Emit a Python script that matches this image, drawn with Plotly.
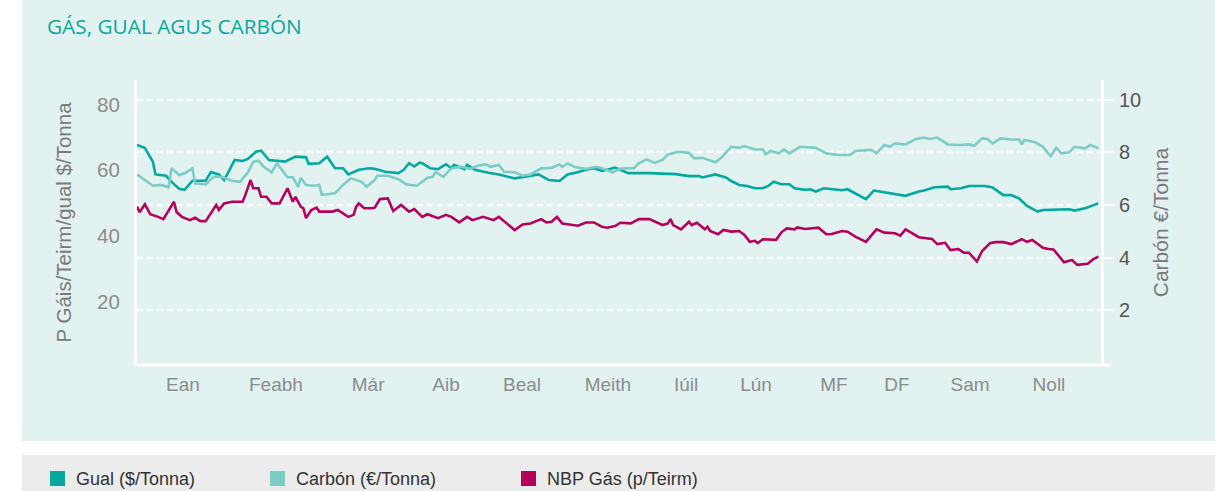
import plotly.graph_objects as go

# ---------------- data ----------------
months = ["Ean", "Feabh", "Már", "Aib", "Beal", "Meith", "Iúil", "Lún", "MF", "DF", "Sam", "Noll"]

# Gual ($/Tonna) - day of year, value (left axis)
gual_day = [0, 3, 6, 7, 11, 13, 16, 18, 21, 26, 28, 31, 33, 37, 40, 42, 45, 47, 50, 53, 56, 60, 64, 65, 69, 72, 75, 78, 80, 84, 88,
            90, 94, 99, 101, 103, 105, 107, 108, 111, 114, 117, 119, 120, 124, 125, 128, 133, 137, 142, 143, 147, 152, 156, 160, 163,
            166, 170, 173, 176, 178, 181, 186, 194, 204, 209, 213, 214, 219, 223, 225, 228, 231, 234, 237, 239, 241, 244, 247, 249,
            253, 255, 257, 260, 263, 267, 269, 272, 276, 279, 283, 286, 291, 296, 298, 302, 307, 308, 312, 315, 321, 324, 328, 331,
            334, 337, 341, 343, 348, 353, 355, 359, 364]
gual_val = [67.7, 66.7, 62.6, 58.7, 58.3, 56.5, 54.3, 54.0, 56.8, 56.8, 59.4, 58.7, 57.0, 63.1, 62.8, 63.4, 65.6, 65.9, 63.1, 62.8,
            62.6, 64.1, 63.9, 61.9, 62.1, 64.1, 60.6, 60.6, 58.7, 60.1, 60.6,
            60.4, 59.5, 59.1, 60.1, 62.1, 61.1, 62.3, 62.1, 60.6, 60.3, 61.8, 60.6, 61.6, 60.3, 61.6, 60.1, 59.2, 58.7, 57.7, 57.5,
            58.0, 58.7, 57.0, 56.7, 58.7,
            59.2, 60.1, 60.6, 59.8, 60.1, 60.8, 59.1, 59.1, 58.8, 58.2, 58.2, 57.8, 58.7, 57.8, 56.7, 55.5, 55.2, 54.5, 54.5, 55.2,
            56.5, 55.7, 55.7, 54.5,
            54.0, 54.2, 53.5, 54.5, 54.2, 53.9, 54.2, 53.0, 51.2, 53.8, 53.3, 52.7, 52.2, 53.5, 53.8, 54.8, 55.0, 54.2, 54.5, 55.2,
            55.2, 54.7, 52.4, 52.4,
            51.4, 49.1, 47.4, 47.9, 48.1, 48.1, 47.7, 48.4, 49.9]

# Carbón (€/Tonna) - day of year, value (right axis)
carbon_day = [0, 3, 6, 9, 12, 13, 16, 18, 21, 22, 26, 29, 32, 36, 39, 42, 44, 46, 48, 51, 53, 57, 59, 61, 62, 64, 67, 69, 70, 75,
              78, 81, 85, 87, 90, 91, 95, 99, 102, 106, 108, 110, 112, 113, 116, 119, 123, 126, 129, 132, 134, 137, 139, 143, 146,
              149, 153, 157, 160, 161, 163, 166, 170, 174, 177, 180, 183, 185, 188, 190, 193, 196, 199, 201, 205, 209, 211, 214, 219,
              221, 225, 228, 230, 234, 237, 238, 240, 243, 245, 247, 251, 257, 261, 266, 270, 272, 278, 280, 283, 285, 287, 291, 295,
              298, 300, 303, 307, 312, 315, 317, 320, 322, 324, 327, 331, 334, 335, 336, 340, 343, 345, 346, 348, 350, 353, 355, 359,
              361, 364]
carbon_val = [7.16, 6.95, 6.73, 6.76, 6.67, 7.39, 7.14, 7.20, 7.39, 6.82, 6.78, 7.07, 7.07, 6.92, 6.88, 7.24, 7.64, 7.68, 7.45,
              7.24, 7.58, 7.05, 7.05, 6.69, 7.03, 6.76, 6.73, 6.76, 6.38, 6.44,
              6.76, 7.01, 6.88, 6.69, 6.95, 7.11, 7.11, 6.98, 6.78, 6.73, 6.88, 7.03, 7.07, 7.26, 7.07, 7.39, 7.45, 7.37, 7.49, 7.54,
              7.45, 7.52, 7.26, 7.24, 7.11,
              7.16, 7.39, 7.41, 7.54, 7.45, 7.58, 7.43, 7.37, 7.45, 7.37, 7.24, 7.37, 7.39, 7.39, 7.58, 7.73, 7.60, 7.71, 7.92, 8.02,
              7.98, 7.77, 7.79, 7.62,
              7.77, 8.21, 8.17, 8.24, 8.11, 8.11, 7.92, 8.05, 7.96, 8.11, 7.96, 8.21, 8.17, 7.96, 7.90, 7.90, 8.05, 8.09, 7.96, 8.28,
              8.21, 8.34, 8.30, 8.51,
              8.56, 8.51, 8.56, 8.30, 8.28, 8.30, 8.25, 8.53, 8.51, 8.34, 8.53, 8.49, 8.49, 8.30, 8.47, 8.38, 8.21, 7.96, 7.86, 8.17,
              7.96, 8.00, 8.21, 8.15,
              8.28, 8.15]

# NBP Gás (p/Teirm) - day of year, value (left axis)
nbp_day = [0, 1, 3, 5, 8, 10, 14, 15, 17, 20, 22, 24, 26, 30, 31, 33, 36, 40, 41, 43, 44, 46, 47, 49, 51, 54, 57, 59, 60, 62, 63,
           64, 66, 68, 69, 74, 76, 80, 82, 83, 84, 86, 89, 90, 92, 95, 97, 100, 103, 105, 108, 110, 114, 117, 119, 122, 125, 127,
           131, 135, 137, 141, 143, 146, 149, 153, 155, 157, 159, 161, 167, 170, 173, 176, 178, 181, 183, 187, 190, 194, 199, 201,
           202, 203, 206, 209, 210, 212, 215, 216, 217, 220, 222, 225, 228, 230, 232, 234, 235, 237, 242, 244, 246, 249, 250, 253,
           258, 261, 263, 267, 269, 272, 276, 280, 283, 287, 289, 291, 293, 296, 301, 303, 306, 308, 311, 313, 315, 318, 320, 323,
           325, 328, 331, 335, 337, 339, 343, 345, 347, 351, 354, 356, 360, 362, 364]
nbp_val = [48.9, 47.2, 49.6, 46.6, 45.8, 45.1, 50.4, 47.2, 45.8, 44.8, 45.5, 44.5, 44.5, 49.4, 47.9, 49.9, 50.4, 50.4, 52.4, 57.0,
           54.5, 54.5, 51.9, 51.9, 49.9, 49.9, 54.5, 50.4, 51.9, 48.9, 48.4,
           45.4, 47.9, 48.6, 47.4, 47.4, 47.9, 45.8, 46.4, 48.9, 49.9, 48.4, 48.4, 48.6, 51.2, 51.4, 47.6, 49.4, 47.4, 48.2, 45.8,
           46.6, 45.4, 46.4, 45.8, 44.1, 45.8, 44.8,
           45.8, 44.8, 45.8, 43.3, 41.8, 43.5, 43.8, 45.1, 44.1, 44.3, 45.8, 43.8, 43.1, 44.1, 44.1, 42.8, 42.5, 43.0, 44.0, 43.8,
           45.1, 45.1, 43.3, 43.8,
           45.1, 43.3, 42.0, 44.3, 43.3, 44.0, 42.0, 42.8, 41.5, 40.5, 41.8, 41.3, 41.5, 40.3, 38.2, 38.5, 37.8, 39.0, 38.8, 41.1,
           42.3, 42.0, 42.6, 42.1,
           42.5, 40.5, 40.6, 41.5, 41.3, 39.8, 38.2, 42.0, 41.0, 40.8, 40.1, 42.0, 41.0, 39.6, 39.1, 37.5, 37.9, 35.7, 36.0, 34.9,
           34.9, 32.2, 35.4, 37.8,
           38.1, 38.1, 37.5, 39.0, 38.2, 38.8, 36.4, 36.0, 35.9, 32.0, 32.7, 31.2, 31.5, 32.9, 33.7]

series_names = ["Gual ($/Tonna)", "Carbón (€/Tonna)", "NBP Gás (p/Teirm)"]

# ---------------- styling ----------------
C_GUAL = "#00a99d"
C_CARBON = "#7dccc6"
C_NBP = "#b5005b"
BG_TEAL = "#e2f2f1"
BG_GREY = "#ececec"
FONT = "Liberation Sans, Arial, sans-serif"

W, H = 1215, 491
ML, MR, MT, MB = 137, 114, 80, 126
PW, PH = W - ML - MR, H - MT - MB


def px(xp):
    return (xp - ML) / PW


def py(yp):
    return (H - MB - yp) / PH


fig = go.Figure()
fig.add_trace(go.Scatter(x=gual_day, y=gual_val, mode="lines", name=series_names[0],
                         line=dict(color=C_GUAL, width=2.6), showlegend=False, yaxis="y"))
fig.add_trace(go.Scatter(x=carbon_day, y=carbon_val, mode="lines", name=series_names[1],
                         line=dict(color=C_CARBON, width=2.6), showlegend=False, yaxis="y2"))
fig.add_trace(go.Scatter(x=nbp_day, y=nbp_val, mode="lines", name=series_names[2],
                         line=dict(color=C_NBP, width=2.6), showlegend=False, yaxis="y"))

# month label positions (days)
month_pos = [17.4, 52.6, 87.5, 117.0, 145.8, 178.3, 207.9, 234.4, 263.9, 287.7, 315.4, 345.3]

shapes = [
    # teal panel
    dict(type="rect", xref="paper", yref="paper", x0=px(22), x1=px(1215), y0=py(441), y1=py(0),
         fillcolor=BG_TEAL, line=dict(width=0), layer="below"),
    # legend band
    dict(type="rect", xref="paper", yref="paper", x0=px(22), x1=px(1215), y0=py(491), y1=py(455),
         fillcolor=BG_GREY, line=dict(width=0), layer="below"),
    # bottom axis line (extends past right axis)
    dict(type="line", xref="paper", yref="paper", x0=0, x1=px(1111), y0=0, y1=0,
         line=dict(color="white", width=3)),
]

annotations = [
    dict(text="GÁS, GUAL AGUS CARBÓN", xref="paper", yref="paper", x=px(45), y=py(26),
         xanchor="left", yanchor="middle", showarrow=False,
         font=dict(family="Open Sans, Noto Sans, sans-serif", size=20.8, color="#0aa79b")),
]

legend_sq_x = [50, 270, 521]
legend_colors = [C_GUAL, C_CARBON, C_NBP]
for name, col, x0 in zip(series_names, legend_colors, legend_sq_x):
    shapes.append(dict(type="rect", xref="paper", yref="paper", x0=px(x0), x1=px(x0 + 15),
                       y0=py(486), y1=py(471), fillcolor=col, line=dict(width=0)))
    annotations.append(dict(text=name, xref="paper", yref="paper", x=px(x0 + 24), y=py(478.5),
                            xanchor="left", yanchor="middle", showarrow=False,
                            font=dict(family=FONT, size=18, color="#333333")))

fig.update_layout(
    width=W, height=H,
    margin=dict(l=ML, r=MR, t=MT, b=MB, pad=0),
    paper_bgcolor="white",
    plot_bgcolor=BG_TEAL,
    font=dict(family=FONT),
    showlegend=False,
    shapes=shapes,
    annotations=annotations,
    xaxis=dict(range=[0, 365], tickmode="array", tickvals=month_pos, ticktext=months,
               showgrid=False, zeroline=False, showline=False, ticks="",
               tickfont=dict(size=19, color="#8c8c8c"), ticklabelstandoff=6),
    yaxis=dict(range=[0.73, 87.43], tickmode="array", tickvals=[20, 40, 60, 80],
               showgrid=False, zeroline=False, showline=True, linecolor="white", linewidth=3,
               ticks="", tickfont=dict(size=20.5, color="#8c8c8c"), ticklabelstandoff=10,
               title=dict(text="P Gáis/Teirm/gual $/Tonna", font=dict(size=20.5, color="#7a7a7a"), standoff=20)),
    yaxis2=dict(range=[-0.087, 10.75], tickmode="array", tickvals=[2, 4, 6, 8, 10],
                overlaying="y", side="right", anchor="x",
                showgrid=True, gridcolor="white", gridwidth=1.5, griddash="6px,4px",
                zeroline=False, showline=True, linecolor="white", linewidth=3,
                ticks="outside", ticklen=10, tickcolor="white", tickwidth=1.5,
                tickfont=dict(size=20, color="#555555"), ticklabelstandoff=1,
                title=dict(text="Carbón €/Tonna", font=dict(size=21, color="#7a7a7a"), standoff=14)),
)

fig.write_html("out.html", config={"displayModeBar": False},
               post_script="document.body.style.margin='0px';document.body.style.overflow='hidden';")
